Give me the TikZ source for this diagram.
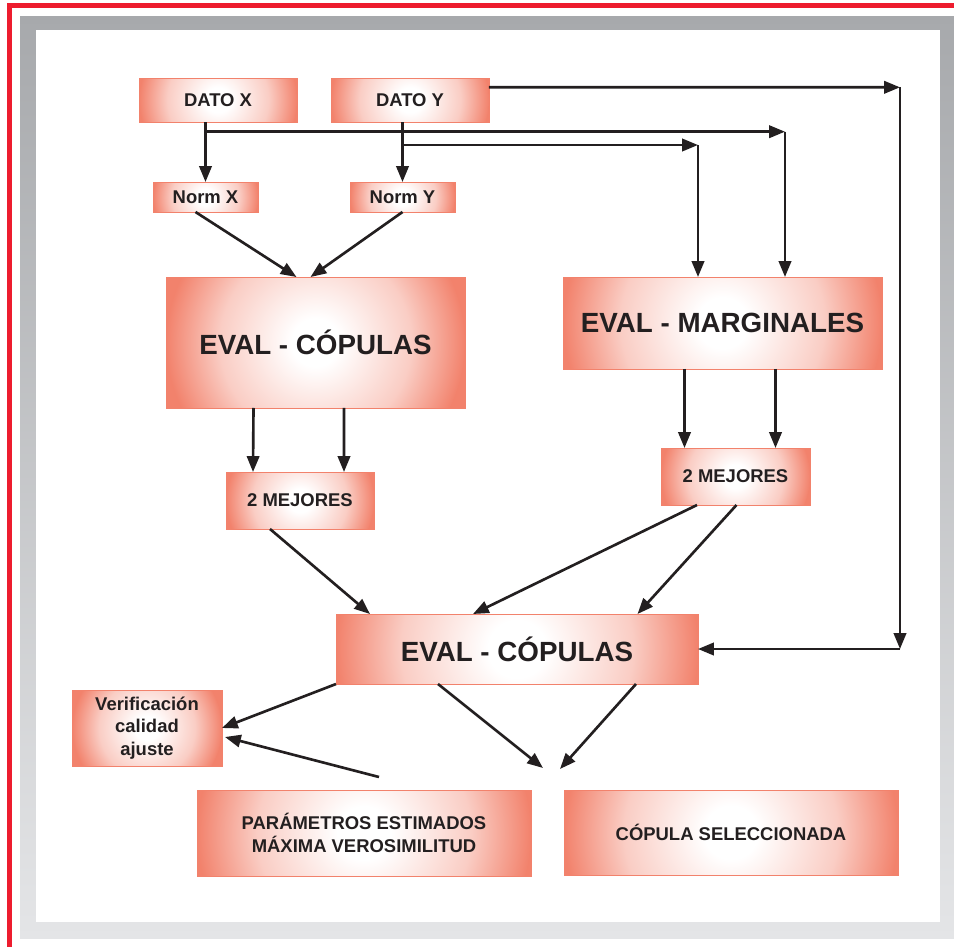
\documentclass[tikz,border=0pt]{standalone}
\usepackage{fontspec}
\setmainfont{Liberation Sans}
\usetikzlibrary{arrows.meta,calc}

\definecolor{rojo}{RGB}{237,28,46}
\definecolor{salmon}{RGB}{242,130,108}
\definecolor{grisarriba}{RGB}{167,169,172}
\definecolor{grisabajo}{RGB}{228,229,231}
\definecolor{tinta}{RGB}{35,31,32}
\pgfdeclareradialshading{brillo}{\pgfpointorigin}{color(0bp)=(white); color(4bp)=(white); color(16bp)=(salmon!40!white); color(25bp)=(salmon); color(50bp)=(salmon)}

\begin{document}
\begin{tikzpicture}[x=0.02cm, y=-0.02cm,
  caja/.style={fill=salmon, draw=salmon, line width=0.3pt, inner sep=0pt, outer sep=0pt, text=tinta, align=center,
    font=\bfseries\fontsize{10.5}{13}\selectfont,
    path picture={\shade[shading=brillo] let \p1=(path picture bounding box.center), \p2=(path picture bounding box.east) in (\p1) circle ({\x2-\x1});}},
  grande/.style={caja, font=\bfseries\fontsize{15.8}{19}\selectfont},
  flecha/.style={line width=1.5pt, draw=tinta, -{Triangle[length=9pt,width=7pt]}}]

\useasboundingbox (0,0) rectangle (954,947);
\shade[top color=grisarriba, bottom color=grisabajo] (20,16) rectangle (954,938);
\fill[white] (36,30) rectangle (940,922);
\fill[rojo] (7,3) rectangle (954,8);
\fill[rojo] (7,3) rectangle (12,947);

\node[caja, minimum width=3.16cm, minimum height=0.88cm] (datox) at (218,100) {DATO X};
\node[caja, minimum width=3.16cm, minimum height=0.88cm] (datoy) at (410,100) {DATO Y};
\node[caja, minimum width=2.1cm, minimum height=0.6cm] (normx) at (205.5,197) {Norm X};
\node[caja, minimum width=2.1cm, minimum height=0.6cm] (normy) at (402.5,197) {Norm Y};
\node[grande, minimum width=5.98cm, minimum height=2.62cm] (evalcop) at (315.5,342.5) {EVAL - CÓPULAS};
\node[grande, minimum width=6.38cm, minimum height=1.84cm] (evalmarg) at (722.5,323) {EVAL - MARGINALES};
\node[caja, minimum width=2.96cm, minimum height=1.14cm] (mejl) at (300,500.5) {2 MEJORES};
\node[caja, minimum width=2.98cm, minimum height=1.14cm] (mejr) at (735.5,476.5) {2 MEJORES};
\node[grande, minimum width=7.24cm, minimum height=1.4cm] (evalfin) at (517,649) {EVAL - CÓPULAS};
\node[caja, minimum width=3cm, minimum height=1.52cm] (verif) at (147,728) {\fontsize{10.5}{13.3}\selectfont Verificación\\calidad\\ajuste};
\node[caja, minimum width=6.68cm, minimum height=1.72cm] (param) at (364,833) {\fontsize{10.5}{12.2}\selectfont PARÁMETROS ESTIMADOS\\MÁXIMA VEROSIMILITUD};
\node[caja, minimum width=6.68cm, minimum height=1.7cm] (copsel) at (731,832.5) {CÓPULA SELECCIONADA};

\coordinate (ramaX) at (205.5,131.7);
\coordinate (codoX) at (785,131.7);
\coordinate (ramaY) at (402.5,145);
\coordinate (codoY) at (698,145);
\coordinate (codoD) at (900,87.3);
\coordinate (esqD) at (900,649);
\coordinate (finA) at (543,768);
\coordinate (finB) at (560,769);

\draw[flecha] (datox.south -| normx.north) -- (normx.north);
\draw[flecha] (datoy.south -| normy.north) -- (normy.north);
\draw[flecha] (ramaX) -- (codoX);
\draw[flecha] (codoX) -- (codoX |- evalmarg.north);
\draw[flecha] (ramaY) -- (codoY);
\draw[flecha] (codoY) -- (codoY |- evalmarg.north);
\draw[flecha] ($(datoy.east)+(0,-12.7)$) -- (codoD);
\draw[flecha] (codoD) -- (esqD);
\draw[flecha] (esqD) -- (evalfin.east);

\draw[flecha] ($(normx.south)+(-10,0)$) -- ($(evalcop.north)+(-19,0)$);
\draw[flecha] (normy.south) -- ($(evalcop.north)+(-5,0)$);
\draw[flecha] ($(evalcop.south)+(-62,0)$) -- ($(mejl.north)+(-47,0)$);
\draw[flecha] ($(evalcop.south)+(28.5,0)$) -- ($(mejl.north)+(44,0)$);
\draw[flecha] ($(evalmarg.south)+(-38,0)$) -- ($(mejr.north)+(-51,0)$);
\draw[flecha] ($(evalmarg.south)+(53,0)$) -- ($(mejr.north)+(40,0)$);

\draw[flecha] ($(mejl.south)+(-30,0)$) -- ($(evalfin.north)+(-147,0)$);
\draw[flecha] ($(mejr.south)+(-38.5,0)$) -- ($(evalfin.north)+(-44,0)$);
\draw[flecha] ($(mejr.south)+(1,0)$) -- ($(evalfin.north)+(120.5,0)$);

\draw[flecha] (evalfin.south west) -- (verif.east);
\draw[flecha] ($(evalfin.south)+(-79,0)$) -- (finA);
\draw[flecha] ($(evalfin.south)+(119,0)$) -- (finB);
\draw[flecha] ($(param.north)+(15,-13)$) -- ($(verif.east)+(3,9)$);
\end{tikzpicture}
\end{document}
